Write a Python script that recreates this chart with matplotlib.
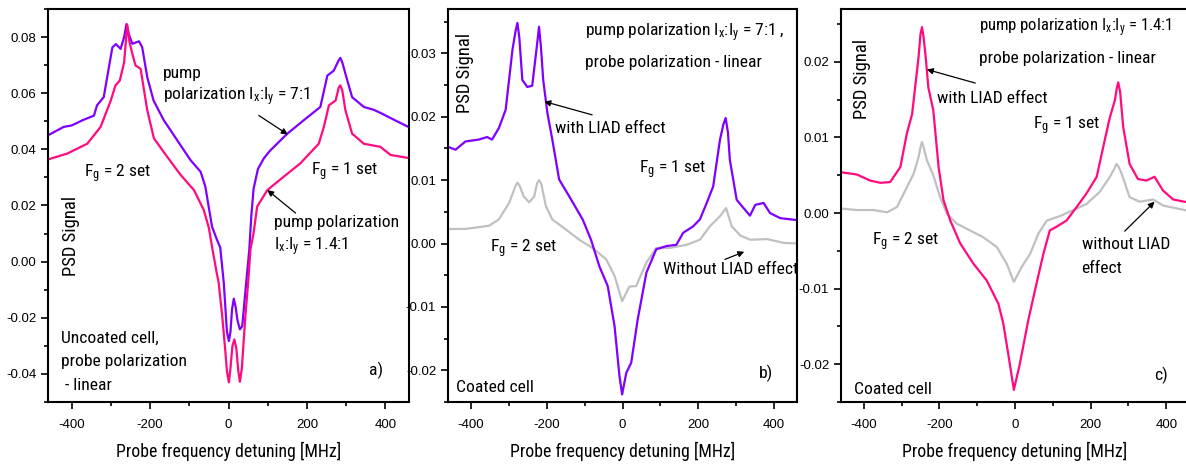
import matplotlib
matplotlib.use("Agg")
import matplotlib.pyplot as plt
from matplotlib import font_manager as fm
from matplotlib.ticker import MultipleLocator, FormatStrFormatter

_names = {f.name for f in fm.fontManager.ttflist}
NARROW = None
for cand in ['Liberation Sans Narrow', 'Arial Narrow', 'Roboto Condensed', 'Open Sans Condensed']:
    if cand in _names:
        NARROW = cand
        break
BASE = NARROW if NARROW else 'Liberation Sans'
SCALE = 1.0 if NARROW else 0.88

plt.rcParams['font.family'] = [BASE, 'DejaVu Sans']
plt.rcParams['mathtext.fontset'] = 'custom'
plt.rcParams['mathtext.rm'] = BASE
plt.rcParams['mathtext.it'] = BASE + ':italic'
plt.rcParams['axes.unicode_minus'] = False

PURPLE = '#7F00FF'
PINK = '#FF0A7F'
GRAY = '#C0C0C0'

# ---------------- Panel a: uncoated cell ----------------
a_pur_x = [-460, -420, -400, -370, -343, -335, -318, -296, -287, -275, -266, -260, -254, -245,
           -228, -220, -207, -191, -165, -131, -97, -71, -59, -42, -30, -21, -12, -4, 1, 5, 9,
           13.5, 18, 23, 29, 35, 45, 53, 58, 64, 75, 90, 107, 150, 192, 234, 252, 268, 280,
           285, 290, 298, 315, 345, 370, 387, 438, 460]
a_pur_y = [0.045, 0.048, 0.0485, 0.0505, 0.052, 0.0557, 0.0586, 0.0763, 0.0775, 0.0758, 0.080,
           0.0846, 0.081, 0.0776, 0.0785, 0.0764, 0.0657, 0.0574, 0.0504, 0.0433, 0.0362, 0.032,
           0.0267, 0.0125, 0.008, 0.005, -0.0076, -0.025, -0.0283, -0.025, -0.017,
           -0.0132, -0.016, -0.021, -0.0241, -0.023, -0.0076, 0.0043, 0.016, 0.026, 0.033,
           0.0368, 0.0397, 0.0456, 0.0504, 0.0551, 0.0663, 0.068, 0.0715, 0.0726, 0.071,
           0.0669, 0.0586, 0.0551, 0.0541, 0.053, 0.0494, 0.0479]

a_pink_x = [-460, -411, -360, -326, -300, -288, -277, -266, -258, -252, -245, -237, -224, -207,
            -190, -156, -122, -88, -63, -50, -41, -30, -25, -16, -8, -4, 1, 5, 10, 15, 20, 25,
            29, 34, 43, 50, 56, 64, 73, 99, 141, 183, 230, 243, 256, 273, 281, 285, 290, 298,
            315, 345, 387, 413, 460]
a_pink_y = [0.0364, 0.0385, 0.042, 0.048, 0.0574, 0.0628, 0.0645, 0.071, 0.0844, 0.078, 0.074,
            0.0699, 0.0687, 0.0539, 0.0439, 0.0373, 0.0309, 0.0255, 0.0184, 0.012, 0.0045,
            -0.004, -0.0076, -0.0194, -0.032, -0.039, -0.043, -0.038, -0.030, -0.0277, -0.031,
            -0.039, -0.0428, -0.038, -0.0194, -0.0076, 0.0043, 0.0102, 0.0196, 0.0255, 0.0303,
            0.035, 0.042, 0.048, 0.0557, 0.0574, 0.062, 0.0628, 0.061, 0.0539, 0.0456, 0.042,
            0.0409, 0.038, 0.0369]

# ---------------- Panel b: coated cell, 7:1 ----------------
b_pur_x = [-462, -440, -414, -379, -357, -344, -326, -308, -290, -282, -277, -272, -264, -251,
           -238, -226, -220, -215, -209, -198, -185, -167, -140, -105, -83, -61, -39, -21, -8,
           -1, 10, 23, 40, 63, 89, 116, 142, 160, 186, 204, 222, 239, 257, 266, 272, 278, 283,
           301, 319, 336, 350, 372, 389, 416, 460]
b_pur_y = [0.0153, 0.0148, 0.0161, 0.0164, 0.0168, 0.0164, 0.0182, 0.0211, 0.0306, 0.0335,
           0.0348, 0.0325, 0.0258, 0.0247, 0.0249, 0.031, 0.0342, 0.031, 0.0258, 0.0206, 0.0164,
           0.0101, 0.0074, 0.0038, 0.0006, -0.0036, -0.0067, -0.013, -0.0209, -0.0238, -0.0204,
           -0.0188, -0.012, -0.0046, -0.0009, -0.0004, -0.0002, 0.0017, 0.0027, 0.0038, 0.0064,
           0.009, 0.0164, 0.0188, 0.0198, 0.0175, 0.0132, 0.0069, 0.0056, 0.0044, 0.0061,
           0.0064, 0.0048, 0.004, 0.0037]

b_gray_x = [-462, -414, -352, -326, -299, -282, -277, -272, -260, -246, -233, -225, -220, -214,
            -202, -185, -149, -114, -79, -43, -21, -1, 18, 36, 63, 89, 124, 169, 204, 230, 257,
            273, 288, 310, 336, 381, 425, 460]
b_gray_y = [0.0023, 0.0023, 0.0028, 0.0038, 0.0064, 0.0091, 0.0096, 0.0092, 0.0074, 0.0065,
            0.0074, 0.0095, 0.01, 0.0094, 0.0059, 0.0038, 0.0022, 0.0006, -0.0007, -0.0025,
            -0.0051, -0.0091, -0.0068, -0.0067, -0.003, -0.0007, -0.0007, -0.0002, 0.0006,
            0.0027, 0.0043, 0.0056, 0.0027, 0.0013, 0.0006, 0.0007, 0.0001, 0.0]

# ---------------- Panel c: coated cell, 1.4:1 ----------------
c_pink_x = [-460, -418, -383, -356, -330, -303, -286, -272, -255, -250, -246, -242, -237, -229,
            -216, -202, -189, -171, -145, -110, -75, -44, -31, -18, -3, 13, 35, 57, 75, 92, 110,
            136, 163, 189, 216, 237, 251, 264, 269, 273, 278, 286, 303, 325, 347, 369, 391, 418,
            448, 460]
c_pink_y = [0.0054, 0.0051, 0.0043, 0.004, 0.0041, 0.0061, 0.0105, 0.0131, 0.0206, 0.0236,
            0.0246, 0.0234, 0.0211, 0.0166, 0.0136, 0.0061, 0.0017, -0.001, -0.004, -0.0067,
            -0.0089, -0.012, -0.0146, -0.0186, -0.0234, -0.0199, -0.0142, -0.0093, -0.0054,
            -0.0023, -0.0018, -0.001, 0.0008, 0.0026, 0.0048, 0.0096, 0.0127, 0.0149, 0.0165,
            0.0173, 0.016, 0.0114, 0.0065, 0.0045, 0.0043, 0.0048, 0.003, 0.0018, 0.0015,
            0.0014]

c_gray_x = [-460, -418, -374, -338, -312, -290, -268, -255, -249, -246, -242, -233, -216, -198,
            -180, -154, -119, -84, -48, -22, -3, 18, 40, 62, 84, 119, 154, 189, 224, 251, 264,
            268, 273, 282, 303, 330, 365, 391, 448, 460]
c_gray_y = [0.0006, 0.0004, 0.0004, 0.0001, 0.0008, 0.003, 0.0052, 0.0074, 0.0089, 0.0094,
            0.0088, 0.007, 0.005, 0.0021, -0.0001, -0.0014, -0.0023, -0.0032, -0.0045, -0.0067,
            -0.0091, -0.0071, -0.0054, -0.0027, -0.001, -0.0004, 0.0004, 0.0012, 0.0028, 0.0048,
            0.006, 0.0065, 0.0062, 0.0052, 0.0021, 0.0015, 0.0018, 0.001, 0.0004, 0.0003]

x_ticks = [-400, -200, 0, 200, 400]
xlabel = 'Probe frequency detuning [MHz]'

W, H = 1186, 468
fig = plt.figure(figsize=(W / 100, H / 100), dpi=100)

def box(l, t, r, b):
    return [l / W, 1 - b / H, (r - l) / W, (b - t) / H]

ax_a = fig.add_axes(box(48, 9, 409, 402))
ax_b = fig.add_axes(box(448, 9, 797, 402))
ax_c = fig.add_axes(box(841, 9, 1189, 402))

FS = 12.6 * SCALE
FS_SMALL = 12.0 * SCALE
PSD_FS = 13.4 * SCALE
LFS = 12.8 * SCALE
TFS = 9.5

def style(ax, ylim, ymaj, ymin):
    ax.set_xlim(-460, 460)
    ax.set_ylim(*ylim)
    ax.set_xticks(x_ticks)
    ax.xaxis.set_minor_locator(MultipleLocator(100))
    ax.yaxis.set_major_locator(MultipleLocator(ymaj))
    ax.yaxis.set_minor_locator(MultipleLocator(ymin))
    ax.yaxis.set_major_formatter(FormatStrFormatter('%.2f'))
    ax.tick_params(which='both', direction='out', top=False, right=False,
                   labelsize=TFS, width=1.2)
    ax.tick_params(which='major', length=5)
    ax.tick_params(which='minor', length=3)
    ax.tick_params(axis='x', which='major', pad=7)
    for lab in ax.get_xticklabels() + ax.get_yticklabels():
        lab.set_family(['Liberation Sans', 'DejaVu Sans'])
    for s in ax.spines.values():
        s.set_linewidth(1.5)
    ax.set_xlabel(xlabel, fontsize=LFS, labelpad=8)

def arrow(ax, tail, head):
    ax.annotate('', xy=head, xytext=tail,
                arrowprops=dict(arrowstyle='-|>', color='black', lw=0.9,
                                mutation_scale=9, shrinkA=0, shrinkB=0))

LW = 1.6
# Panel a
ax_a.plot(a_pur_x, a_pur_y, color=PURPLE, lw=LW)
ax_a.plot(a_pink_x, a_pink_y, color=PINK, lw=LW)
style(ax_a, (-0.05, 0.09), 0.02, 0.01)
ax_a.text(-167, 0.0671, 'pump', fontsize=FS, va='center')
ax_a.text(-167, 0.0589, r'polarization I$_\mathrm{x}$:I$_\mathrm{y}$ = 7:1', fontsize=FS, va='center')
arrow(ax_a, (77, 0.0521), (151, 0.0453))
ax_a.text(-369, 0.0314, r'F$_\mathrm{g}$ = 2 set', fontsize=FS, va='center')
ax_a.text(209, 0.032, r'F$_\mathrm{g}$ = 1 set', fontsize=FS, va='center')
ax_a.text(115, 0.0139, 'pump polarization', fontsize=FS, va='center')
ax_a.text(115, 0.0054, r'I$_\mathrm{x}$:I$_\mathrm{y}$ = 1.4:1', fontsize=FS, va='center')
arrow(ax_a, (171, 0.0173), (99, 0.0255))
ax_a.text(-402, 0.009, 'PSD Signal', fontsize=PSD_FS, rotation=90, ha='center', va='center')
ax_a.text(-428, -0.0274, 'Uncoated cell,', fontsize=FS, va='center')
ax_a.text(-428, -0.0357, 'probe polarization', fontsize=FS, va='center')
ax_a.text(-428, -0.0442, ' - linear', fontsize=FS, va='center')
ax_a.text(376, -0.0389, 'a)', fontsize=FS, ha='center', va='center')

# Panel b
ax_b.plot(b_gray_x, b_gray_y, color=GRAY, lw=LW)
ax_b.plot(b_pur_x, b_pur_y, color=PURPLE, lw=LW)
style(ax_b, (-0.025, 0.037), 0.01, 0.005)
ax_b.text(-99, 0.0332, r'pump polarization I$_\mathrm{x}$:I$_\mathrm{y}$ = 7:1 ,', fontsize=FS, va='center')
ax_b.text(-99, 0.0285, 'probe polarization - linear', fontsize=FS, va='center')
ax_b.text(-177, 0.0182, 'with LIAD effect', fontsize=FS, va='center')
arrow(ax_b, (-80, 0.0203), (-206, 0.0224))
ax_b.text(43, 0.0117, r'F$_\mathrm{g}$ = 1 set', fontsize=FS, va='center')
ax_b.text(-350, -0.0008, r'F$_\mathrm{g}$ = 2 set', fontsize=FS, va='center')
ax_b.text(107, -0.0041, 'Without LIAD effect', fontsize=FS, va='center')
arrow(ax_b, (270, -0.0025), (321, -0.0013))
ax_b.text(-414, 0.0269, 'PSD Signal', fontsize=PSD_FS, rotation=90, ha='center', va='center')
ax_b.text(-440, -0.0227, 'Coated cell', fontsize=FS, va='center')
ax_b.text(378, -0.0205, 'b)', fontsize=FS, ha='center', va='center')

# Panel c
ax_c.plot(c_gray_x, c_gray_y, color=GRAY, lw=LW)
ax_c.plot(c_pink_x, c_pink_y, color=PINK, lw=LW)
style(ax_c, (-0.025, 0.027), 0.01, 0.005)
ax_c.text(-94, 0.0245, r'pump polarization I$_\mathrm{x}$:I$_\mathrm{y}$ = 1.4:1', fontsize=FS_SMALL, va='center')
ax_c.text(-94, 0.0204, 'probe polarization - linear', fontsize=FS, va='center')
ax_c.text(-206, 0.0151, 'with LIAD effect', fontsize=FS, va='center')
arrow(ax_c, (-105, 0.0172), (-233, 0.019))
ax_c.text(47, 0.0115, r'F$_\mathrm{g}$ = 1 set', fontsize=FS, va='center')
ax_c.text(-378, -0.0038, r'F$_\mathrm{g}$ = 2 set', fontsize=FS, va='center')
ax_c.text(176, -0.0041, 'without LIAD', fontsize=FS, va='center')
ax_c.text(176, -0.0073, 'effect', fontsize=FS, va='center')
arrow(ax_c, (290, -0.0024), (369, 0.0015))
ax_c.text(-404, 0.0178, 'PSD Signal', fontsize=PSD_FS, rotation=90, ha='center', va='center')
ax_c.text(-425, -0.0233, 'Coated cell', fontsize=FS, va='center')
ax_c.text(387, -0.0215, 'c)', fontsize=FS, ha='center', va='center')

fig.savefig('out.png', dpi=100)
